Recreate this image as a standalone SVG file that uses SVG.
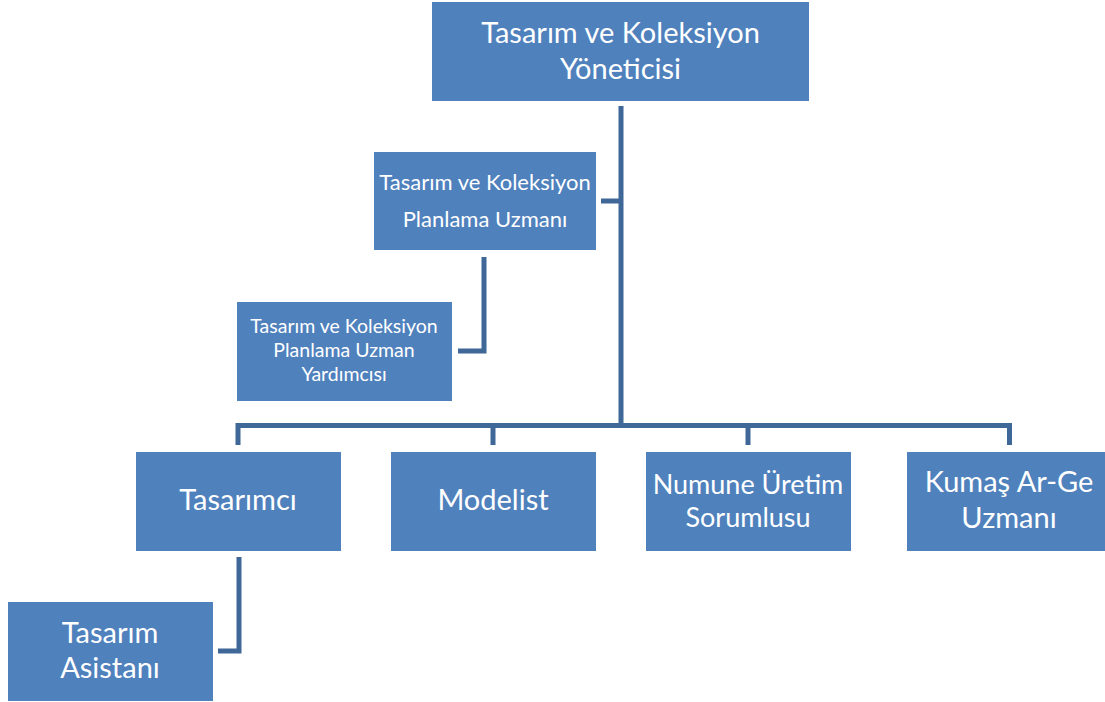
<svg xmlns="http://www.w3.org/2000/svg" width="1105" height="702" viewBox="0 0 1105 702">
<style>
.box{fill:#4f81bd;stroke:#ffffff;stroke-width:1}
.t{fill:#ffffff;font-family:Lato,"Open Sans","Liberation Sans",sans-serif;text-anchor:middle}
.conn{fill:none;stroke:#3f6898;stroke-width:5;stroke-linejoin:miter;stroke-linecap:butt}
</style>
<rect width="1105" height="702" fill="#ffffff"/>
<g id="connectors">
<path class="conn" d="M621,106 V428"/>
<path class="conn" d="M238,445 V425.5 H1009.5 V445"/>
<path class="conn" d="M493,425 V445"/>
<path class="conn" d="M748,425 V445"/>
<path class="conn" d="M621,201 H601"/>
<path class="conn" d="M484,257 V351 H458"/>
<path class="conn" d="M239,557 V651 H218"/>
</g>
<g id="n-yonetici">
<rect class="box" x="431.5" y="1.5" width="378" height="100"/>
<text class="t" x="620.5" y="43" font-size="29">Tasarım ve Koleksiyon</text>
<text class="t" x="620.5" y="79" font-size="29">Yöneticisi</text>
</g>
<g id="n-planlama">
<rect class="box" x="373.5" y="151.5" width="223" height="99"/>
<text class="t" x="485" y="190" font-size="22">Tasarım ve Koleksiyon</text>
<text class="t" x="485" y="227" font-size="22">Planlama Uzmanı</text>
</g>
<g id="n-yardimci">
<rect class="box" x="236.5" y="301.5" width="216" height="100"/>
<text class="t" x="344" y="333" font-size="19.5">Tasarım ve Koleksiyon</text>
<text class="t" x="344" y="357" font-size="19.5">Planlama Uzman</text>
<text class="t" x="344" y="381" font-size="19.5">Yardımcısı</text>
</g>
<g id="n-tasarimci">
<rect class="box" x="135.5" y="451.5" width="206" height="100"/>
<text class="t" x="238" y="510" font-size="29">Tasarımcı</text>
</g>
<g id="n-modelist">
<rect class="box" x="390.5" y="451.5" width="206" height="100"/>
<text class="t" x="493" y="510" font-size="29">Modelist</text>
</g>
<g id="n-numune">
<rect class="box" x="645.5" y="451.5" width="206" height="100"/>
<text class="t" x="748" y="494" font-size="27">Numune Üretim</text>
<text class="t" x="748" y="527" font-size="27">Sorumlusu</text>
</g>
<g id="n-kumas">
<rect class="box" x="906.5" y="451.5" width="206" height="100"/>
<text class="t" x="1009" y="492" font-size="29">Kumaş Ar-Ge</text>
<text class="t" x="1009" y="528" font-size="29">Uzmanı</text>
</g>
<g id="n-asistan">
<rect class="box" x="7.5" y="601.5" width="206" height="100"/>
<text class="t" x="110" y="643" font-size="29">Tasarım</text>
<text class="t" x="110" y="678" font-size="29">Asistanı</text>
</g>
</svg>
